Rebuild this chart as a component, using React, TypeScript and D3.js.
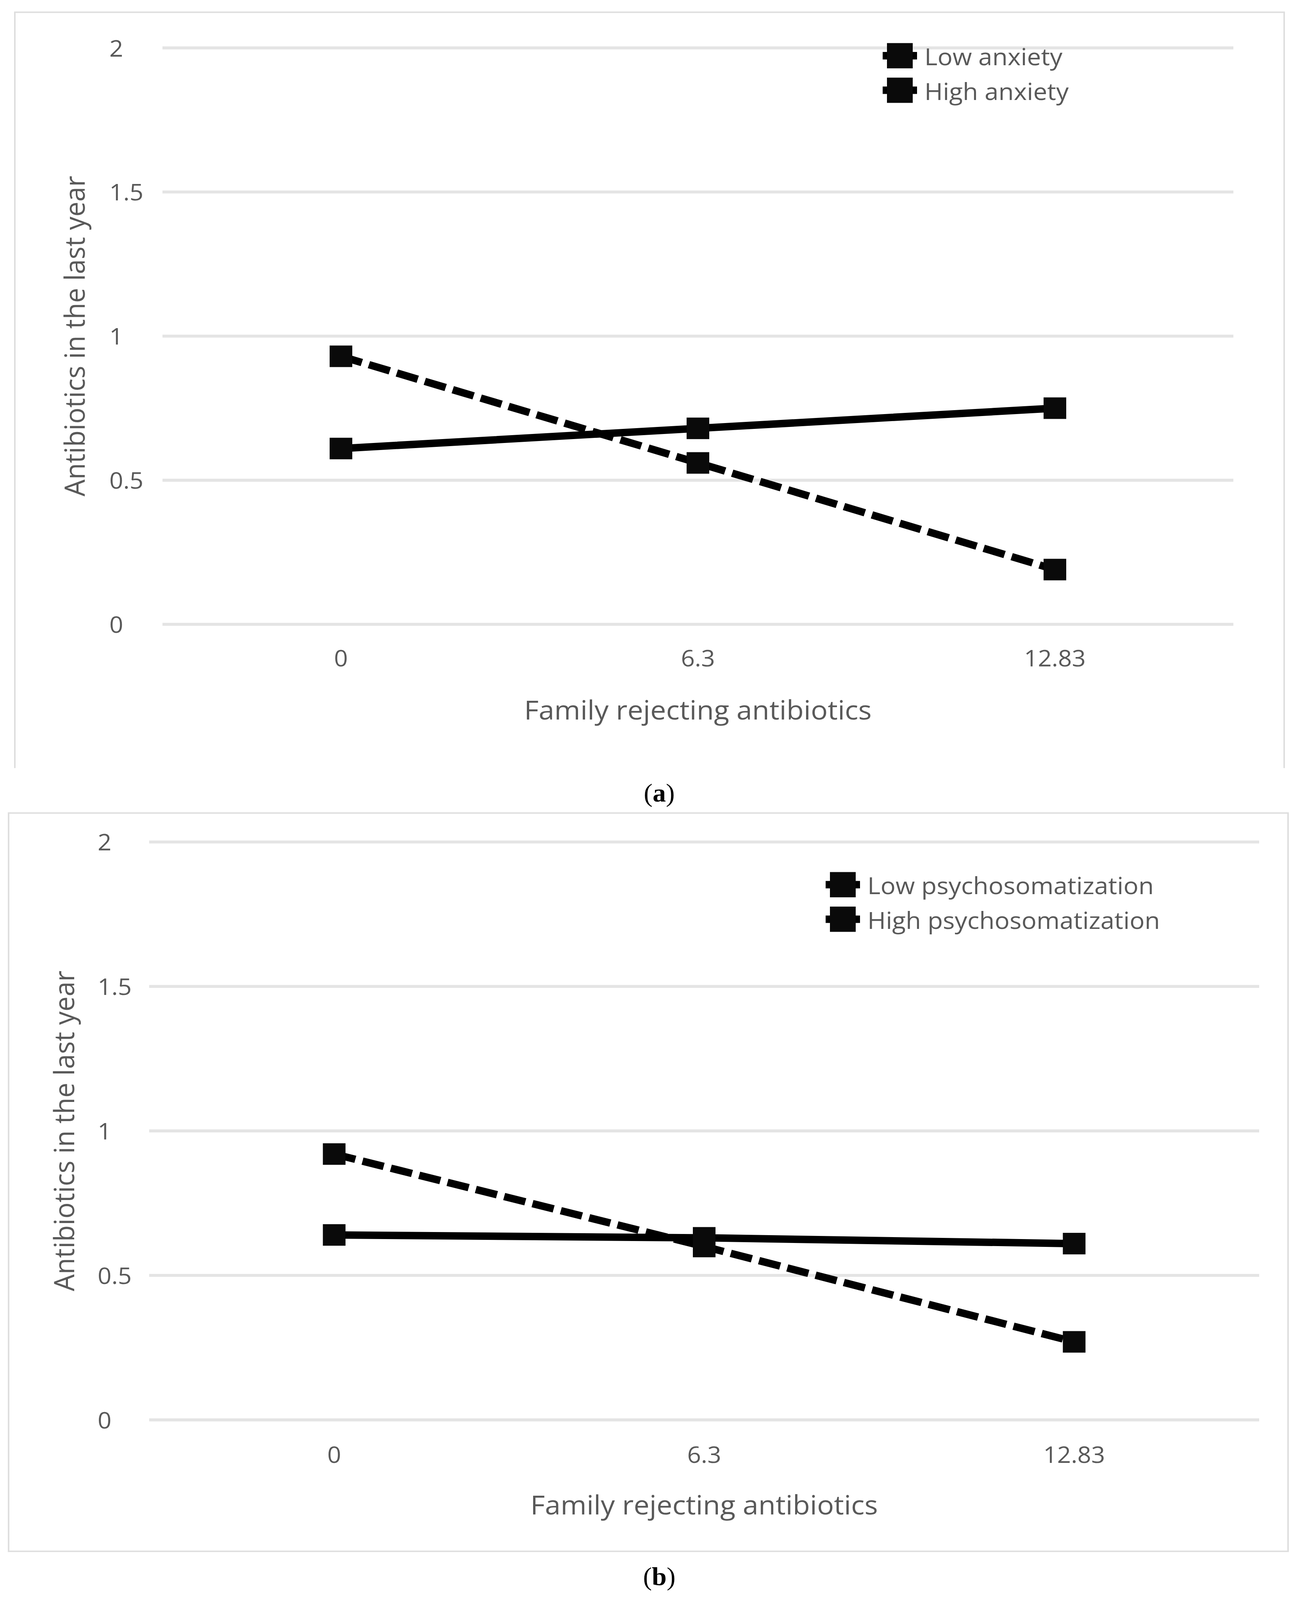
import * as d3 from "d3";

// values
const categories = ["0", "6.3", "12.83"];
const yTicks = [0, 0.5, 1, 1.5, 2];

const lowAnxiety = [0.61, 0.68, 0.75];
const highAnxiety = [0.93, 0.56, 0.19];
const anxietyNames = ["Low anxiety", "High anxiety"];

const lowPsycho = [0.64, 0.63, 0.61];
const highPsycho = [0.92, 0.6, 0.27];
const psychoNames = ["Low psychosomatization", "High psychosomatization"];

const xTitle = "Family rejecting antibiotics";
const yTitle = "Antibiotics in the last year";

const W = 3326;
const H = 4308;
const sans = "'Open Sans', 'Noto Sans', sans-serif";
const textGrey = "#595959";

type PanelProps = {
  low: number[];
  high: number[];
  names: string[];
  caption: string;
  box: { x1: number; x2: number; top: number; bottom: number; closed: boolean };
  plot: { left: number; right: number; top: number; bottom: number };
  yTickX: number;
  yTitleX: number;
  xTickY: number;
  xTitleY: number;
  legendX: number;
  legendY: number[];
  captionY: number;
};

function Panel(p: PanelProps) {
  const x = d3
    .scalePoint<string>()
    .domain(categories)
    .range([p.plot.left, p.plot.right])
    .padding(0.5);
  const y = d3.scaleLinear().domain([0, 2]).range([p.plot.bottom, p.plot.top]);

  const line = d3
    .line<number>()
    .x((_, i) => x(categories[i])!)
    .y((d) => y(d));

  const marker = 58;
  const series = [
    { values: p.low, dash: undefined as string | undefined },
    { values: p.high, dash: "56 19" },
  ];
  const cx = (p.plot.left + p.plot.right) / 2;
  const cy = (p.plot.top + p.plot.bottom) / 2;

  return (
    <g>
      {/* chart area border */}
      <path
        d={
          p.box.closed
            ? `M${p.box.x1},${p.box.top}H${p.box.x2}V${p.box.bottom}H${p.box.x1}Z`
            : `M${p.box.x1},${p.box.bottom}V${p.box.top}H${p.box.x2}V${p.box.bottom}`
        }
        fill="none"
        stroke="#dedede"
        strokeWidth={4}
      />

      {yTicks.map((t) => (
        <g key={t}>
          <line
            x1={p.plot.left}
            x2={p.plot.right}
            y1={y(t)}
            y2={y(t)}
            stroke="#e4e4e4"
            strokeWidth={8}
          />
          <text
            x={p.yTickX}
            y={y(t) + 23}
            fontFamily={sans}
            fontSize={62}
            fill={textGrey}
          >
            {t}
          </text>
        </g>
      ))}

      {categories.map((c) => (
        <text
          key={c}
          x={x(c)}
          y={p.xTickY}
          textAnchor="middle"
          fontFamily={sans}
          fontSize={62}
          fill={textGrey}
        >
          {c}
        </text>
      ))}

      <text
        x={cx}
        y={p.xTitleY}
        textAnchor="middle"
        fontFamily={sans}
        fontSize={72}
        fill={textGrey}
      >
        {xTitle}
      </text>
      <text
        transform={`translate(${p.yTitleX},${cy}) rotate(-90)`}
        textAnchor="middle"
        fontFamily={sans}
        fontSize={72}
        fill={textGrey}
      >
        {yTitle}
      </text>

      {series.map((s, k) => (
        <g key={k}>
          <path
            d={line(s.values) ?? ""}
            fill="none"
            stroke="#000"
            strokeWidth={20}
            strokeDasharray={s.dash}
          />
          {s.values.map((v, i) => (
            <rect
              key={i}
              x={x(categories[i])! - marker / 2}
              y={y(v) - marker / 2}
              width={marker}
              height={marker}
              fill="#0a0a0a"
            />
          ))}
        </g>
      ))}

      {/* legend */}
      {p.names.map((n, k) => (
        <g key={n}>
          <line
            x1={p.legendX - 44}
            x2={p.legendX + 44}
            y1={p.legendY[k]}
            y2={p.legendY[k]}
            stroke="#000"
            strokeWidth={20}
          />
          <rect
            x={p.legendX - 33}
            y={p.legendY[k] - 34}
            width={66}
            height={68}
            fill="#0a0a0a"
          />
          <text
            x={p.legendX + 63}
            y={p.legendY[k] + 26}
            fontFamily={sans}
            fontSize={64}
            fill={textGrey}
          >
            {n}
          </text>
        </g>
      ))}

      <text
        x={1688}
        y={p.captionY}
        textAnchor="middle"
        fontFamily="'Liberation Serif', 'DejaVu Serif', serif"
        fontSize={68}
        fill="#000"
      >
        (<tspan fontWeight="bold">{p.caption}</tspan>)
      </text>
    </g>
  );
}

export default function App() {
  // the visible viewport is shorter than the window, so the figure is fitted to it
  return (
    <svg
      viewBox={`0 0 ${W} ${H}`}
      preserveAspectRatio="none"
      style={{
        position: "fixed",
        left: 0,
        top: 0,
        width: "100vw",
        height: "100vh",
        display: "block",
        background: "#fff",
      }}
    >
      <rect width={W} height={H} fill="#fff" />
      <Panel
        low={lowAnxiety}
        high={highAnxiety}
        names={anxietyNames}
        caption="a"
        box={{ x1: 38, x2: 3288, top: 33, bottom: 2068, closed: false }}
        plot={{ left: 416, right: 3158, top: 129, bottom: 1681 }}
        yTickX={280}
        yTitleX={217}
        xTickY={1794}
        xTitleY={1937}
        legendX={2304}
        legendY={[150, 243]}
        captionY={2158}
      />
      <Panel
        low={lowPsycho}
        high={highPsycho}
        names={psychoNames}
        caption="b"
        box={{ x1: 22, x2: 3298, top: 2189, bottom: 4177, closed: true }}
        plot={{ left: 382, right: 3224, top: 2267, bottom: 3823 }}
        yTickX={250}
        yTitleX={190}
        xTickY={3939}
        xTitleY={4078}
        legendX={2158}
        legendY={[2382, 2475]}
        captionY={4268}
      />
    </svg>
  );
}
